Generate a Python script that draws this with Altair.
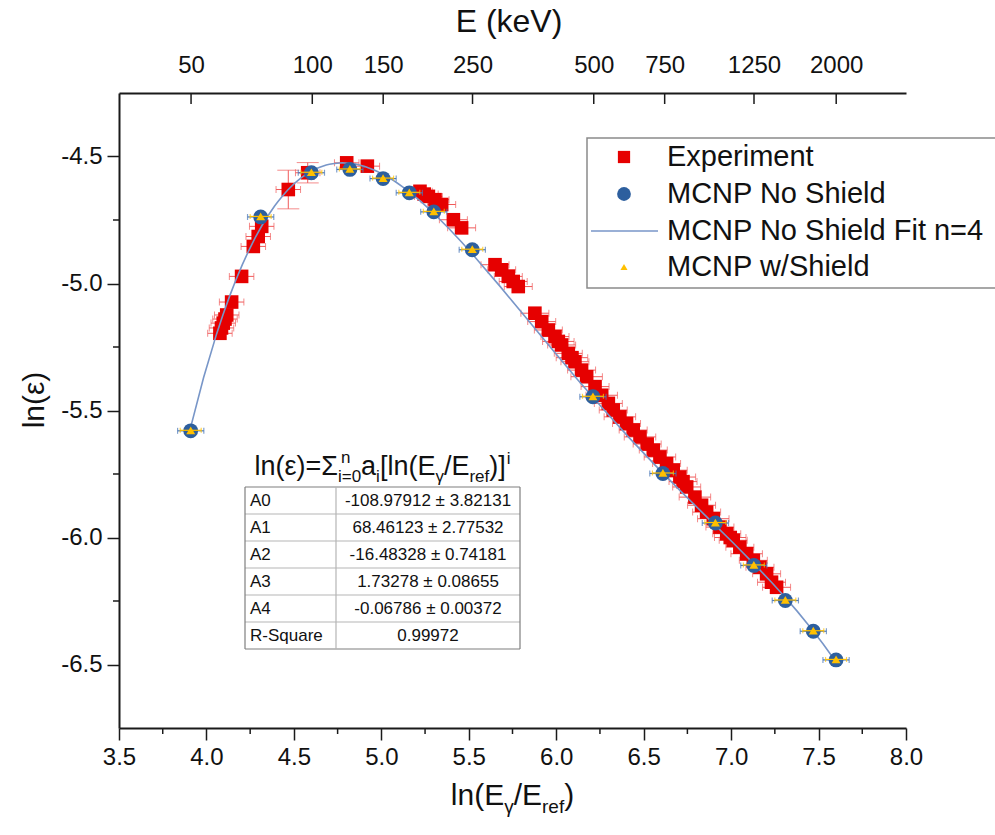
import altair as alt
import pandas as pd
import numpy as np

# ---------------- data ----------------
exp_x = [4.077, 4.086, 4.096, 4.106, 4.116, 4.144, 4.201, 4.268, 4.296, 4.316,
         4.468, 4.579, 4.802, 4.920, 5.221, 5.245, 5.269, 5.307, 5.345, 5.412,
         5.459, 5.650, 5.688, 5.726, 5.754, 5.783, 5.878, 5.917, 5.955, 5.993,
         6.012, 6.031, 6.069, 6.090, 6.107, 6.145, 6.174, 6.222, 6.260, 6.298,
         6.326, 6.364, 6.402, 6.440, 6.479, 6.520, 6.555, 6.593, 6.631, 6.669,
         6.707, 6.725, 6.746, 6.793, 6.831, 6.860, 6.898, 6.936, 6.975, 6.995,
         7.012, 7.050, 7.089, 7.127, 7.165, 7.203, 7.231, 7.260]
exp_y = [-5.196, -5.175, -5.156, -5.140, -5.124, -5.073, -4.972, -4.854, -4.815, -4.775,
         -4.630, -4.564, -4.525, -4.538, -4.637, -4.648, -4.657, -4.670, -4.689, -4.749,
         -4.781, -4.926, -4.946, -4.972, -4.992, -5.012, -5.117, -5.150, -5.183, -5.209,
         -5.228, -5.242, -5.275, -5.292, -5.308, -5.341, -5.367, -5.406, -5.440, -5.472,
         -5.498, -5.525, -5.551, -5.577, -5.604, -5.632, -5.656, -5.683, -5.709, -5.735,
         -5.762, -5.780, -5.801, -5.841, -5.873, -5.900, -5.926, -5.959, -5.985, -6.000,
         -6.011, -6.038, -6.064, -6.090, -6.117, -6.143, -6.176, -6.196]
exp_xerr = [0.07, 0.07, 0.07, 0.07, 0.07, 0.07, 0.07, 0.07, 0.07, 0.07,
            0.07, 0.07, 0.07, 0.07, 0.07, 0.08, 0.08, 0.08, 0.08, 0.08,
            0.08, 0.08, 0.08, 0.08, 0.08, 0.08, 0.08, 0.08, 0.08, 0.08,
            0.09, 0.08, 0.08, 0.09, 0.08, 0.08, 0.09, 0.08, 0.09, 0.08,
            0.08, 0.09, 0.08, 0.08, 0.09, 0.08, 0.08, 0.09, 0.08, 0.08,
            0.09, 0.08, 0.08, 0.09, 0.08, 0.08, 0.09, 0.08, 0.08, 0.09,
            0.08, 0.08, 0.09, 0.08, 0.08, 0.08, 0.08, 0.08]
exp_yerr = [0.012, 0.012, 0.012, 0.012, 0.012, 0.012, 0.012, 0.012, 0.012, 0.012,
            0.076, 0.040, 0.015, 0.012, 0.012, 0.012, 0.012, 0.012, 0.012, 0.012,
            0.012, 0.012, 0.012, 0.012, 0.012, 0.012, 0.012, 0.012, 0.012, 0.012,
            0.012, 0.012, 0.012, 0.012, 0.012, 0.012, 0.012, 0.012, 0.012, 0.012,
            0.012, 0.012, 0.012, 0.012, 0.012, 0.012, 0.012, 0.012, 0.012, 0.012,
            0.012, 0.012, 0.012, 0.012, 0.012, 0.012, 0.012, 0.012, 0.012, 0.012,
            0.012, 0.012, 0.012, 0.012, 0.012, 0.012, 0.012, 0.012]

mcnp_x = [3.91, 4.31, 4.60, 4.82, 5.01, 5.16, 5.30, 5.52, 6.21, 6.61, 6.91, 7.13, 7.31, 7.47, 7.60]
mcnp_y = [-5.580, -4.738, -4.564, -4.551, -4.587, -4.643, -4.718, -4.867, -5.446, -5.748,
          -5.943, -6.110, -6.248, -6.369, -6.482]
mcnp_xerr = [0.075, 0.075, 0.075, 0.075, 0.075, 0.075, 0.075, 0.075, 0.075, 0.075,
             0.075, 0.075, 0.075, 0.075, 0.075]

shield_x = [3.91, 4.31, 4.60, 4.82, 5.01, 5.16, 5.30, 5.52, 6.21, 6.61, 6.91, 7.13, 7.31, 7.47, 7.60]
shield_y = [-5.578, -4.736, -4.562, -4.549, -4.585, -4.641, -4.716, -4.865, -5.444, -5.746,
            -5.941, -6.108, -6.246, -6.367, -6.480]
shield_xerr = [0.06, 0.06, 0.06, 0.06, 0.06, 0.06, 0.06, 0.06, 0.06, 0.06,
               0.06, 0.06, 0.06, 0.06, 0.06]

top_tick_keV = [50, 100, 150, 250, 500, 750, 1250, 2000]
bottom_ticks = [3.5, 4.0, 4.5, 5.0, 5.5, 6.0, 6.5, 7.0, 7.5, 8.0]
bottom_minor = [3.75, 4.25, 4.75, 5.25, 5.75, 6.25, 6.75, 7.25, 7.75]
left_ticks = [-4.5, -5.0, -5.5, -6.0, -6.5]
left_minor = [-4.75, -5.25, -5.75, -6.25]

table_labels = ["A0", "A1", "A2", "A3", "A4", "R-Square"]
table_values = ["-108.97912 ± 3.82131", "68.46123 ± 2.77532", "-16.48328 ± 0.74181",
                "1.73278 ± 0.08655", "-0.06786 ± 0.00372", "0.99972"]
legend_labels = ["Experiment", "MCNP No Shield", "MCNP No Shield Fit n=4", "MCNP w/Shield"]

# ---------------- styling ----------------
W, H = 787, 635
FONT = "Liberation Sans, Arial, Helvetica, sans-serif"
RED = "#E60000"
RED_ERR = "#F05A5A"
BLUE = "#2D5F9E"
BLUE_ERR = "#4A78B8"
YELLOW = "#FFC000"
FIT = "#7896C8"
AX = "#1a1a1a"

xs = alt.Scale(domain=[3.5, 8.0], nice=False, zero=False)
ys = alt.Scale(domain=[-6.75, -4.25], nice=False, zero=False)


def X(f, axis=None):
    return alt.X(f, type="quantitative", scale=xs, axis=axis)


def Y(f, axis=None):
    return alt.Y(f, type="quantitative", scale=ys, axis=axis)


exp_df = pd.DataFrame({"x": exp_x, "y": exp_y, "xerr": exp_xerr, "yerr": exp_yerr})
nos_df = pd.DataFrame({"x": mcnp_x, "y": mcnp_y, "xerr": mcnp_xerr})
sh_df = pd.DataFrame({"x": shield_x, "y": shield_y, "xerr": shield_xerr})
one = pd.DataFrame({"k": [0]})


def hbars(df, color, sw, capsize):
    base = alt.Chart(df).transform_calculate(lo="datum.x - datum.xerr", hi="datum.x + datum.xerr")
    bar = base.mark_rule(color=color, strokeWidth=sw).encode(x=X("lo"), x2=alt.X2("hi"), y=Y("y"))
    caps = base.transform_fold(["lo", "hi"], as_=["end", "xe"]).mark_tick(
        orient="vertical", color=color, size=capsize, thickness=sw
    ).encode(x=X("xe"), y=Y("y"))
    return [bar, caps]


layers = []
# experiment error bars
layers += hbars(exp_df, RED_ERR, 1, 7)
vb = alt.Chart(exp_df).transform_filter("datum.yerr > 0.02").transform_calculate(
    lo="datum.y - datum.yerr", hi="datum.y + datum.yerr")
layers.append(vb.mark_rule(color=RED_ERR, strokeWidth=1).encode(x=X("x"), y=Y("lo"), y2=alt.Y2("hi")))
layers.append(vb.transform_fold(["lo", "hi"], as_=["end", "ye"]).mark_tick(
    orient="horizontal", color=RED_ERR, size=22, thickness=1).encode(x=X("x"), y=Y("ye")))

bottom_axis = alt.Axis(orient="bottom", values=bottom_ticks, format=".1f", title=None, grid=False,
                       tickSize=12, tickWidth=1.5, tickColor=AX, domainColor=AX, domainWidth=2,
                       labelFontSize=24, labelFont=FONT, labelColor="#111", labelPadding=5,
                       labelFlush=False)
left_axis = alt.Axis(orient="left", values=left_ticks, title=None, grid=False,
                     labelExpr="replace(format(datum.value, '.1f'), '−', '-')",
                     tickSize=12, tickWidth=1.5, tickColor=AX, domainColor=AX, domainWidth=2,
                     labelFontSize=24, labelFont=FONT, labelColor="#111", labelPadding=5,
                     labelFlush=False)

# experiment squares (carry the bottom / left axes)
layers.append(alt.Chart(exp_df).mark_square(size=185, color=RED, opacity=1).encode(
    x=X("x", bottom_axis), y=Y("y", left_axis)))

# polynomial fit (order 4) of MCNP No Shield
layers.append(alt.Chart(nos_df).transform_regression(
    "x", "y", method="poly", order=4, extent=[3.91, 7.60]
).mark_line(color=FIT, strokeWidth=1.6).encode(x=X("x"), y=Y("y")))

# MCNP no shield
layers += hbars(nos_df, BLUE_ERR, 1.2, 6)
layers.append(alt.Chart(nos_df).mark_circle(size=220, color=BLUE, opacity=1).encode(x=X("x"), y=Y("y")))

# MCNP with shield
layers += hbars(sh_df, YELLOW, 1.2, 5)
layers.append(alt.Chart(sh_df).mark_point(shape="triangle-up", filled=True, size=80, color=YELLOW,
                                          opacity=1).encode(x=X("x"), y=Y("y")))

# top energy axis
top_vals = [float(np.log(e)) for e in top_tick_keV]
top_axis = alt.Axis(orient="top", values=top_vals, title=None, grid=False, ticks=False,
                    labelExpr="format(round(exp(datum.value)), 'd')",
                    domainColor=AX, domainWidth=2, labelFontSize=24, labelFont=FONT,
                    labelColor="#111", labelPadding=16, labelFlush=False)
top_df = pd.DataFrame({"E": top_tick_keV})
layers.append(alt.Chart(top_df).transform_calculate(lnE="log(datum.E)").mark_rule(
    color=AX, strokeWidth=1.5).encode(x=X("lnE", top_axis), y=alt.value(0), y2=alt.value(11)))

# minor ticks
layers.append(alt.Chart(pd.DataFrame({"v": bottom_minor})).mark_rule(color=AX, strokeWidth=1.5).encode(
    x=X("v"), y=alt.value(H), y2=alt.value(H + 6)))
layers.append(alt.Chart(pd.DataFrame({"v": left_minor})).mark_rule(color=AX, strokeWidth=1.5).encode(
    y=Y("v"), x=alt.value(-6), x2=alt.value(0)))


def txt(s, x, y, size, align="left", baseline="alphabetic", angle=0, color="#111"):
    kw = dict(text=s, align=align, baseline=baseline, fontSize=size, font=FONT, color=color)
    if angle:
        kw["angle"] = angle
    return alt.Chart(one).mark_text(**kw).encode(x=alt.value(x), y=alt.value(y))


def rule(x1, y1, x2, y2, color, sw):
    return alt.Chart(one).mark_rule(color=color, strokeWidth=sw).encode(
        x=alt.value(x1), y=alt.value(y1), x2=alt.value(x2), y2=alt.value(y2))


# rich-text helper (Arial metrics)
EM = {'l': .222, 'n': .556, '(': .333, ')': .333, 'ε': .446, '=': .584, 'Σ': .618, 'a': .556,
      'i': .222, '0': .556, '[': .278, ']': .278, 'E': .667, 'γ': .5, '/': .278, 'r': .333,
      'e': .556, 'f': .278}


def wid(s, size):
    return sum(EM.get(c, .556) for c in s) * size


def rich(pieces, x0, base_y, F, f):
    out = []
    x = x0
    for s, kind in pieces:
        if kind == "n":
            out.append(txt(s, x, base_y, F))
            x += wid(s, F)
        elif kind == "sub":
            out.append(txt(s, x, base_y + 0.25 * F, f))
            x += wid(s, f)
        elif kind == "sup":
            out.append(txt(s, x + 1, base_y - 0.42 * F, f))
            x += wid(s, f) + 1
        elif kind == "stack":  # super over sub after Sigma
            sup_s, sub_s = s
            out.append(txt(sup_s, x + 3, base_y - 0.45 * F, f))
            out.append(txt(sub_s, x, base_y + 0.25 * F, f))
            x += max(wid(sup_s, f), wid(sub_s, f))
    return out, x - x0


# axis titles
layers.append(txt("E (keV)", 390, -71, 32, align="center", baseline="middle"))
layers.append(txt("ln(ε)", -84, 307, 30, align="center", baseline="middle", angle=270))
bt_pieces = [("ln(E", "n"), ("γ", "sub"), ("/E", "n"), ("ref", "sub"), (")", "n")]
_, bw = rich(bt_pieces, 0, 0, 30, 19)
bl, _ = rich(bt_pieces, W / 2 - bw / 2, 712, 30, 19)
layers += bl

# fit table
T_L, T_R, T_D, T_T, RH = 126, 401, 217, 394, 27
T_B = T_T + RH * len(table_labels)
for i in range(len(table_labels) + 1):
    c = "#7f7f7f" if i in (0, len(table_labels)) else "#b5b5b5"
    layers.append(rule(T_L, T_T + RH * i, T_R, T_T + RH * i, c, 1.2))
layers.append(rule(T_L, T_T, T_L, T_B, "#7f7f7f", 1.2))
layers.append(rule(T_R, T_T, T_R, T_B, "#7f7f7f", 1.2))
layers.append(rule(T_D, T_T, T_D, T_B, "#b5b5b5", 1.2))
for i, (lab, val) in enumerate(zip(table_labels, table_values)):
    yc = T_T + RH * i + RH / 2
    layers.append(txt(lab, T_L + 5, yc, 17, baseline="middle"))
    layers.append(txt(val, (T_D + T_R) / 2, yc, 17, align="center", baseline="middle"))

tt_pieces = [("ln(ε)=Σ", "n"), (("n", "i=0"), "stack"), ("a", "n"), ("i", "sub"), ("[ln(E", "n"),
             ("γ", "sub"), ("/E", "n"), ("ref", "sub"), (")]", "n"), ("i", "sup")]
_, tw = rich(tt_pieces, 0, 0, 27, 17)
tl, _ = rich(tt_pieces, (T_L + T_R) / 2 - tw / 2, 382, 27, 17)
layers += tl

# legend
layers.append(alt.Chart(one).mark_rect(fill="white", stroke="#8a8a8a", strokeWidth=1.5).encode(
    x=alt.value(468), x2=alt.value(905), y=alt.value(45), y2=alt.value(195)))
LY = [64, 101, 138, 174]
layers.append(alt.Chart(one).mark_square(size=150, color=RED, opacity=1).encode(x=alt.value(505), y=alt.value(LY[0])))
layers.append(alt.Chart(one).mark_circle(size=190, color=BLUE, opacity=1).encode(x=alt.value(505), y=alt.value(LY[1])))
layers.append(rule(472, LY[2], 539, LY[2], FIT, 1.6))
layers.append(alt.Chart(one).mark_point(shape="triangle-up", filled=True, size=50, color=YELLOW, opacity=1).encode(
    x=alt.value(505), y=alt.value(LY[3])))
for lab, ly in zip(legend_labels, LY):
    layers.append(txt(lab, 548, ly, 29, baseline="middle"))

chart = alt.layer(*layers).resolve_axis(x="independent", y="independent").properties(
    width=W, height=H,
    autosize=alt.AutoSizeParams(type="none"),
    padding={"left": 119, "top": 93, "right": 89, "bottom": 107},
    background="white",
).configure_view(strokeWidth=0)

chart.save("out.html", embed_options={"renderer": "svg", "actions": False})
